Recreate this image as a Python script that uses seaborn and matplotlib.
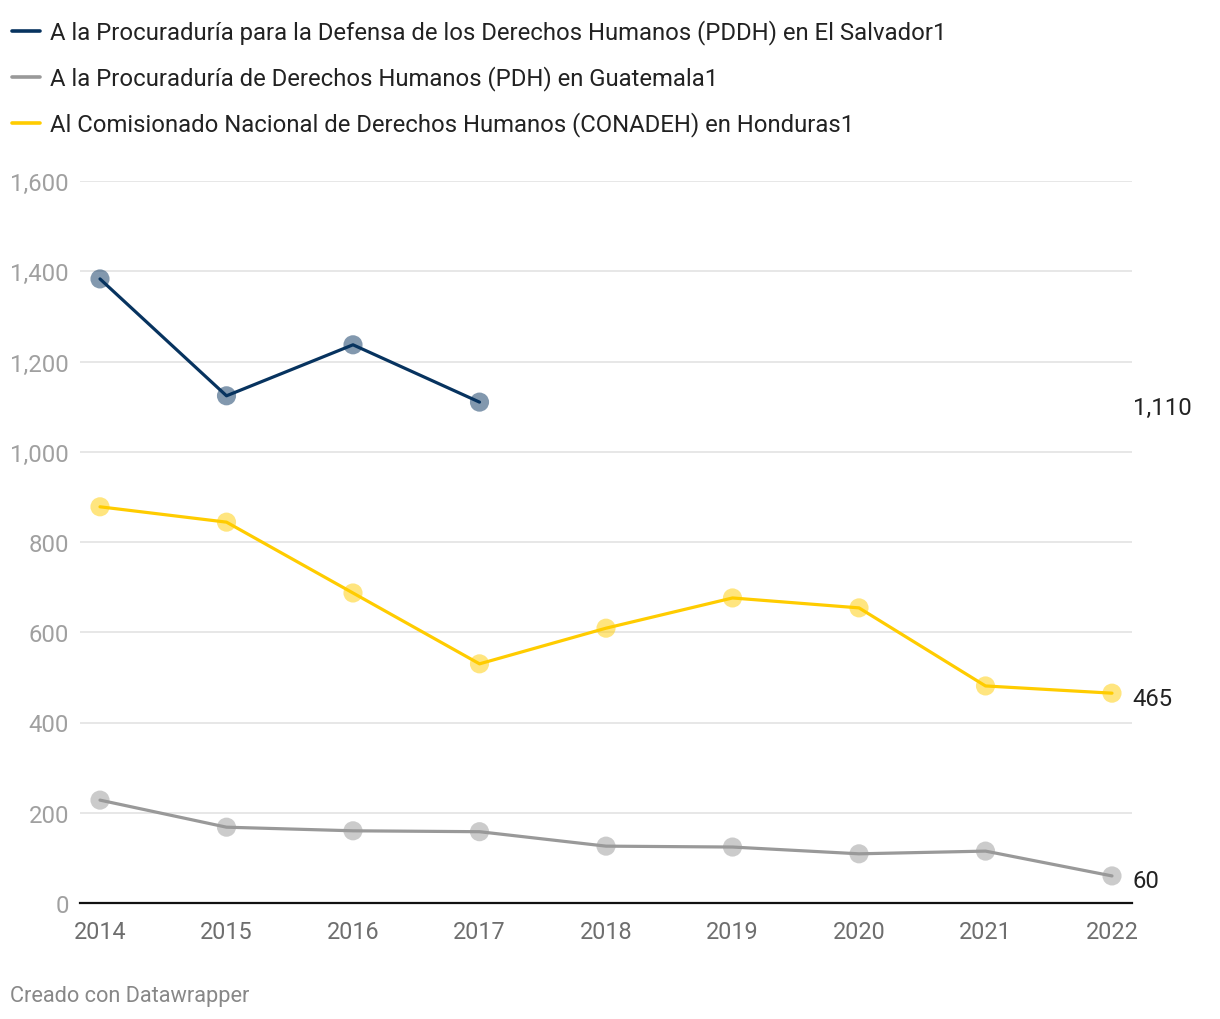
import numpy as np
import pandas as pd
import matplotlib
matplotlib.use("Agg")
import matplotlib.pyplot as plt
import seaborn as sns
from matplotlib.lines import Line2D
from matplotlib.ticker import FuncFormatter

years = [2014, 2015, 2016, 2017, 2018, 2019, 2020, 2021, 2022]
el_salvador = [1383, 1124, 1237, 1110, np.nan, np.nan, np.nan, np.nan, np.nan]
guatemala = [228, 168, 160, 158, 126, 124, 109, 115, 60]
honduras = [878, 844, 687, 530, 609, 676, 654, 481, 465]

series_names = [
    "A la Procuraduría para la Defensa de los Derechos Humanos (PDDH) en El Salvador1",
    "A la Procuraduría de Derechos Humanos (PDH) en Guatemala1",
    "Al Comisionado Nacional de Derechos Humanos (CONADEH) en Honduras1",
]
line_colors = ["#07335f", "#999999", "#ffcc00"]
end_labels = ["1,110", "60", "465"]
yticks = [0, 200, 400, 600, 800, 1000, 1200, 1400, 1600]

df = pd.concat([
    pd.DataFrame({"year": years, "value": el_salvador, "serie": series_names[0]}),
    pd.DataFrame({"year": years, "value": guatemala, "serie": series_names[1]}),
    pd.DataFrame({"year": years, "value": honduras, "serie": series_names[2]}),
], ignore_index=True)

sns.set_theme(style="white")
plt.rcParams["font.family"] = ["Roboto", "DejaVu Sans"]

W, H = 1220, 1020
fig = plt.figure(figsize=(W / 100, H / 100), dpi=100)
ax = fig.add_axes([80 / W, 1 - 904 / H, (1132 - 80) / W, (904 - 182) / H])

palette = dict(zip(series_names, line_colors))
sns.scatterplot(data=df.dropna(), x="year", y="value", hue="serie", palette=palette,
                s=190, alpha=0.5, edgecolor="none", legend=False, ax=ax, zorder=3)
sns.lineplot(data=df.dropna(), x="year", y="value", hue="serie", palette=palette,
             linewidth=2.3, legend=False, ax=ax, zorder=4, estimator=None)

ax.set_xlim(2014 - 20 / 126.5, 2022 + 20 / 126.5)
ax.set_ylim(0, 1600)
ax.set_xticks(years)
ax.set_yticks(yticks)
ax.yaxis.set_major_formatter(FuncFormatter(lambda v, p: f"{int(v):,}"))
ax.grid(axis="y", color="#e3e3e3", linewidth=1.2, zorder=0)
ax.grid(axis="x", visible=False)
for s in ["top", "right", "left"]:
    ax.spines[s].set_visible(False)
ax.spines["bottom"].set_color("#111111")
ax.spines["bottom"].set_linewidth(1.6)
ax.spines["bottom"].set_zorder(2)
ax.tick_params(axis="y", length=0, pad=8, labelsize=17.2, labelcolor="#a0a0a0")
ax.tick_params(axis="x", length=0, pad=12, labelsize=16.8, labelcolor="#6e6e6e")
ax.set_xlabel("")
ax.set_ylabel("")

# end labels
last_vals = [el_salvador[3], guatemala[-1], honduras[-1]]
for lab, v in zip(end_labels, last_vals):
    ax.annotate(lab, xy=(2022 + 20 / 126.5, v), xytext=(0.5, -3.5), textcoords="offset points",
                ha="left", va="center", fontsize=17.2, color="#222222", annotation_clip=False)

# legend (manual)
leg_y = [32, 78, 124]
for name, col, y in zip(series_names, line_colors, leg_y):
    fig.lines.append(Line2D([12 / W, 40 / W], [1 - y / H, 1 - y / H], transform=fig.transFigure,
                            color=col, linewidth=2.6, solid_capstyle="round"))
    fig.text(50 / W, 1 - (y + 1) / H, name, ha="left", va="center", fontsize=17.2, color="#222222")

fig.text(10 / W, 1 - 997 / H, "Creado con Datawrapper", ha="left", va="center",
         fontsize=15.7, color="#888888")

fig.savefig("out.png", dpi=100, facecolor="white")
